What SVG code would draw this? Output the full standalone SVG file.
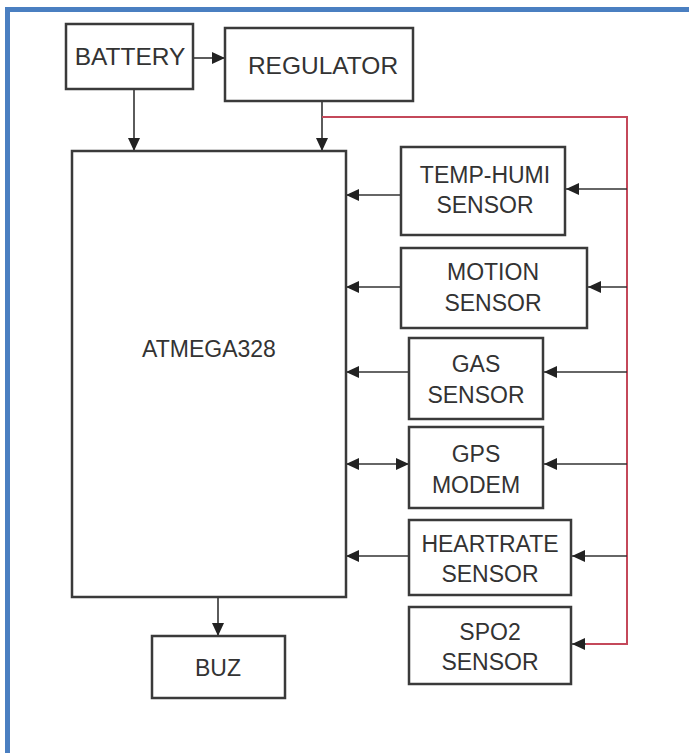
<svg xmlns="http://www.w3.org/2000/svg" width="689" height="753" viewBox="0 0 689 753">
<style>
.box{fill:#fff;stroke:#3a3a3a;stroke-width:2.5}
.t{font-family:"Liberation Sans",Arial,sans-serif;font-size:23px;fill:#333;text-anchor:middle}
.big{font-size:24.5px}
.c{fill:none;stroke:#333;stroke-width:1.6}
.r{fill:none;stroke:#c4485a;stroke-width:2}
</style>
<defs>
<marker id="ah" markerUnits="userSpaceOnUse" markerWidth="14" markerHeight="12" refX="13" refY="6" orient="auto-start-reverse">
<path d="M0,0 L13,6 L0,12 Z" fill="#222"/>
</marker>
</defs>
<rect width="689" height="753" fill="#fff"/>
<path d="M7.5,753 V9.5 H689" fill="none" stroke="#4a7fc1" stroke-width="5"/>

<g id="connectors">
<line class="c" x1="193" y1="58" x2="225" y2="58" marker-end="url(#ah)"/>
<line class="c" x1="134" y1="89" x2="134" y2="151" marker-end="url(#ah)"/>
<line class="c" x1="322" y1="101" x2="322" y2="151" marker-end="url(#ah)"/>
<path class="r" d="M322,117 H627 V644 H586"/>
<line class="c" x1="586" y1="644" x2="572" y2="644" marker-end="url(#ah)"/>
<line class="c" x1="627" y1="189" x2="566" y2="189" marker-end="url(#ah)"/>
<line class="c" x1="401" y1="195" x2="346" y2="195" marker-end="url(#ah)"/>
<line class="c" x1="627" y1="287" x2="588" y2="287" marker-end="url(#ah)"/>
<line class="c" x1="401" y1="287" x2="346" y2="287" marker-end="url(#ah)"/>
<line class="c" x1="627" y1="372" x2="544" y2="372" marker-end="url(#ah)"/>
<line class="c" x1="409" y1="372" x2="346" y2="372" marker-end="url(#ah)"/>
<line class="c" x1="627" y1="464" x2="544" y2="464" marker-end="url(#ah)"/>
<line class="c" x1="346" y1="464" x2="409" y2="464" marker-start="url(#ah)" marker-end="url(#ah)"/>
<line class="c" x1="627" y1="556" x2="572" y2="556" marker-end="url(#ah)"/>
<line class="c" x1="409" y1="556" x2="346" y2="556" marker-end="url(#ah)"/>
<line class="c" x1="218" y1="597" x2="218" y2="636" marker-end="url(#ah)"/>
</g>

<g id="battery"><rect class="box" x="66" y="24" width="127" height="65"/><text class="t big" x="130" y="65">BATTERY</text></g>
<g id="regulator"><rect class="box" x="225" y="28" width="188" height="73"/><text class="t big" x="323" y="74">REGULATOR</text></g>
<g id="atmega"><rect class="box" x="72" y="151" width="274" height="446"/><text class="t" x="209" y="357">ATMEGA328</text></g>
<g id="temphumi"><rect class="box" x="401" y="147" width="164" height="88"/><text class="t" x="485" y="183">TEMP-HUMI</text><text class="t" x="485" y="213">SENSOR</text></g>
<g id="motion"><rect class="box" x="401" y="248" width="186" height="80"/><text class="t" x="493" y="280">MOTION</text><text class="t" x="493" y="311">SENSOR</text></g>
<g id="gas"><rect class="box" x="409" y="338" width="134" height="81"/><text class="t" x="476" y="372">GAS</text><text class="t" x="476" y="403">SENSOR</text></g>
<g id="gps"><rect class="box" x="409" y="427" width="134" height="81"/><text class="t" x="476" y="462">GPS</text><text class="t" x="476" y="493">MODEM</text></g>
<g id="heartrate"><rect class="box" x="409" y="520" width="162" height="75"/><text class="t" x="490" y="552">HEARTRATE</text><text class="t" x="490" y="582">SENSOR</text></g>
<g id="spo2"><rect class="box" x="409" y="607" width="162" height="77"/><text class="t" x="490" y="640">SPO2</text><text class="t" x="490" y="670">SENSOR</text></g>
<g id="buz"><rect class="box" x="152" y="636" width="133" height="62"/><text class="t" x="218" y="676">BUZ</text></g>
</svg>
